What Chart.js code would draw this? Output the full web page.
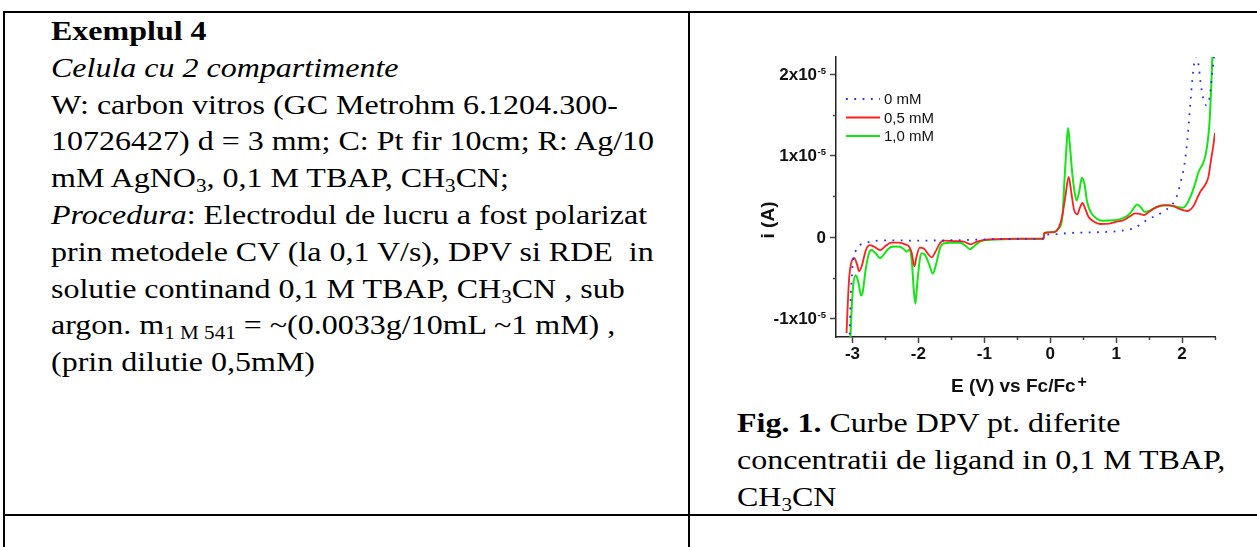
<!DOCTYPE html>
<html>
<head>
<meta charset="utf-8">
<script src="https://cdn.jsdelivr.net/npm/chart.js@4.4.0/dist/chart.umd.min.js"></script>
<style>
html, body { margin: 0; padding: 0; background: #fff; }
body { width: 1257px; height: 547px; overflow: hidden; position: relative; color: #000;
  font-family: 'Liberation Serif', 'Times New Roman', serif; }
.rule { position: absolute; background: #000; }
.txt { position: absolute; font-size: 28px; line-height: 36.8px; white-space: pre;
  transform: scaleX(1.143); transform-origin: 0 0; }
.txt sub { font-size: 0.66em; vertical-align: -0.25em; line-height: 0; }
#plot { position: absolute; left: 760px; top: 50px; }
</style>
</head>
<body>

<!-- table rules -->
<div class="rule" style="left:3px;top:11px;width:1270px;height:2px"></div>
<div class="rule" style="left:3px;top:11px;width:2px;height:540px"></div>
<div class="rule" style="left:688px;top:11px;width:2px;height:540px"></div>
<div class="rule" style="left:3px;top:514px;width:1270px;height:2px"></div>

<div class="txt" style="left:51px;top:13px"><b>Exemplul 4</b>
<i>Celula cu 2 compartimente</i>
W: carbon vitros (GC Metrohm 6.1204.300-
10726427) d = 3 mm; C: Pt fir 10cm; R: Ag/10
mM AgNO<sub>3</sub>, 0,1 M TBAP, CH<sub>3</sub>CN;
<i>Procedura</i>: Electrodul de lucru a fost polarizat
prin metodele CV (la 0,1 V/s), DPV si RDE  in
solutie continand 0,1 M TBAP, CH<sub>3</sub>CN , sub
argon. m<sub>1 M 541</sub> = ~(0.0033g/10mL ~1 mM) ,
(prin dilutie 0,5mM)</div>

<canvas id="plot" width="470" height="350"></canvas>

<div class="txt" style="left:737px;top:405px"><b>Fig. 1.</b> Curbe DPV pt. diferite
concentratii de ligand in 0,1 M TBAP,
CH<sub>3</sub>CN</div>

<script>
// DPV scans: potential in V vs Fc/Fc+, current in units of 1x10^-5 A
// (cathodic scan first, then anodic scan)
const potential0 = [-3.045, -3.03, -3.01, -2.99, -2.95, -2.89, -2.80, -2.68, -2.40, -2.00, -1.60, -1.20, -0.80, -0.10,
  -0.09, 0.10, 0.28, 0.50, 0.76, 1.00, 1.17, 1.29, 1.39, 1.49, 1.62, 1.75, 1.85, 1.92, 1.98, 2.03, 2.08, 2.13, 2.17, 2.21, 2.25, 2.28, 2.32, 2.37, 2.42, 2.46, 2.49]
const current0 = [-1.30, -0.80, -0.50, -0.28, -0.17, -0.10, -0.07, -0.05, -0.04, -0.045, -0.04, -0.035, -0.025, -0.02,
  0.02, 0.035, 0.05, 0.055, 0.06, 0.07, 0.09, 0.115, 0.17, 0.22, 0.27, 0.33, 0.40, 0.50, 0.68, 0.86, 1.19, 1.69, 2.05, 2.22, 2.12, 1.91, 1.71, 1.62, 1.73, 2.03, 2.25]

const potential05 = [-3.09, -3.07, -3.05, -3.02, -2.97, -2.93, -2.90, -2.86, -2.80, -2.74, -2.67, -2.58, -2.50, -2.41, -2.30, -2.20, -2.14, -2.10, -2.06, -2.03, -1.98, -1.92, -1.86, -1.80, -1.74, -1.67, -1.60, -1.45, -1.30, -1.21, -1.12, -1.00, -0.80, -0.50, -0.10,
  -0.09, 0.05, 0.12, 0.18, 0.23, 0.28, 0.32, 0.36, 0.41, 0.45, 0.49, 0.53, 0.58, 0.66, 0.76, 0.90, 1.01, 1.12, 1.20, 1.29, 1.36, 1.42, 1.50, 1.57, 1.65, 1.72, 1.80, 1.87, 1.95, 2.02, 2.08, 2.13, 2.18, 2.23, 2.28, 2.35, 2.40, 2.44, 2.47, 2.50]
const current05 = [-1.18, -0.80, -0.50, -0.32, -0.26, -0.34, -0.42, -0.36, -0.17, -0.10, -0.12, -0.16, -0.11, -0.07, -0.07, -0.09, -0.12, -0.20, -0.36, -0.25, -0.13, -0.14, -0.20, -0.25, -0.18, -0.07, -0.045, -0.05, -0.06, -0.09, -0.06, -0.035, -0.025, -0.02, -0.02,
  0.05, 0.06, 0.10, 0.25, 0.50, 0.74, 0.55, 0.34, 0.28, 0.36, 0.42, 0.35, 0.25, 0.19, 0.16, 0.165, 0.19, 0.21, 0.25, 0.29, 0.285, 0.27, 0.31, 0.35, 0.38, 0.39, 0.39, 0.38, 0.35, 0.33, 0.32, 0.34, 0.39, 0.48, 0.56, 0.64, 0.74, 0.95, 1.10, 1.28]

const potential10 = [-3.035, -3.01, -2.99, -2.95, -2.91, -2.87, -2.85, -2.80, -2.75, -2.71, -2.65, -2.58, -2.52, -2.45, -2.38, -2.28, -2.22, -2.18, -2.14, -2.10, -2.07, -2.045, -2.02, -1.98, -1.95, -1.90, -1.84, -1.78, -1.73, -1.67, -1.62, -1.50, -1.37, -1.28, -1.22, -1.15, -1.05, -0.90, -0.50, -0.10,
  -0.09, 0.05, 0.12, 0.18, 0.22, 0.25, 0.27, 0.30, 0.33, 0.37, 0.40, 0.44, 0.48, 0.52, 0.56, 0.62, 0.70, 0.79, 0.95, 1.06, 1.15, 1.22, 1.28, 1.32, 1.38, 1.43, 1.50, 1.62, 1.72, 1.80, 1.90, 2.00, 2.05, 2.13, 2.20, 2.25, 2.32, 2.36, 2.40, 2.42, 2.44, 2.46, 2.47]
const current10 = [-1.30, -0.85, -0.60, -0.47, -0.56, -0.72, -0.70, -0.40, -0.20, -0.16, -0.20, -0.26, -0.21, -0.14, -0.115, -0.12, -0.15, -0.18, -0.155, -0.30, -0.65, -0.82, -0.60, -0.28, -0.20, -0.22, -0.33, -0.45, -0.33, -0.13, -0.08, -0.07, -0.07, -0.11, -0.15, -0.11, -0.05, -0.035, -0.025, -0.02,
  0.05, 0.06, 0.10, 0.22, 0.75, 1.15, 1.34, 1.12, 0.82, 0.55, 0.45, 0.56, 0.73, 0.65, 0.43, 0.30, 0.23, 0.20, 0.205, 0.22, 0.25, 0.30, 0.37, 0.40, 0.36, 0.31, 0.32, 0.37, 0.39, 0.39, 0.375, 0.36, 0.38, 0.50, 0.66, 0.80, 0.91, 1.02, 1.25, 1.45, 1.80, 2.22, 2.40]

const seriesLabels = ["0 mM", "0,5 mM", "1,0 mM"]

// half-step tick marks between the labelled ones
const xMinorTicks = [-2.5, -1.5, -0.5, 0.5, 1.5, 2.5]
const yMinorTicks = [-0.5, 0.5, 1.5]

const sans = "'Liberation Sans', Arial, sans-serif"

const toPoints = (xs, ys) => xs.map((x, k) => ({x: x, y: ys[k]}))

// axis decorations: short minor ticks, y labels with exponent, axis titles, legend
const axisDecor = {
  id: "axisDecor",
  afterDraw(chart) {
    const ctx = chart.ctx
    const xs = chart.scales.x
    const ys = chart.scales.y
    const area = chart.chartArea

    ctx.save()
    ctx.strokeStyle = "#444"
    ctx.lineWidth = 1.5
    ctx.beginPath()
    xMinorTicks.forEach(v => {
      const px = Math.round(xs.getPixelForValue(v)) + 0.5
      ctx.moveTo(px, area.bottom)
      ctx.lineTo(px, area.bottom + 3)
    })
    yMinorTicks.forEach(v => {
      const py = Math.round(ys.getPixelForValue(v)) + 0.5
      ctx.moveTo(area.left - 3, py)
      ctx.lineTo(area.left, py)
    })
    ctx.stroke()

    // y tick labels: "Nx10" with a raised "-5"
    ctx.fillStyle = "#111"
    const right = area.left - 10
    ys.ticks.forEach(t => {
      const py = ys.getPixelForValue(t.value)
      ctx.textAlign = "right"
      ctx.textBaseline = "middle"
      if (t.value === 0) {
        ctx.font = "bold 17px " + sans
        ctx.fillText("0", right, py + 1)
        return
      }
      ctx.font = "bold 9.5px " + sans
      const supW = ctx.measureText("-5").width
      ctx.fillText("-5", right, py - 3)
      ctx.font = "bold 17px " + sans
      ctx.fillText(t.value + "x10", right - supW - 0.5, py + 1)
    })

    // y title
    ctx.save()
    ctx.translate(9, 170)
    ctx.rotate(-Math.PI / 2)
    ctx.textAlign = "center"
    ctx.textBaseline = "middle"
    ctx.font = "bold 19px " + sans
    ctx.fillText("i (A)", 0, 0)
    ctx.restore()

    // x title with superscript +
    ctx.textAlign = "left"
    ctx.textBaseline = "alphabetic"
    ctx.font = "bold 19px " + sans
    const base = "E (V) vs Fc/Fc"
    ctx.fillText(base, 191, 342)
    const w = ctx.measureText(base).width
    ctx.font = "bold 16px " + sans
    ctx.fillText("+", 191 + w + 2, 337)

    // legend in the upper left corner of the plot
    const lx = area.left + 10
    chart.data.datasets.forEach((ds, k) => {
      const ly = area.top + 42 + k * 18.5
      ctx.strokeStyle = ds.borderColor
      ctx.lineWidth = ds.borderWidth
      ctx.setLineDash(ds.borderDash || [])
      ctx.beginPath()
      ctx.moveTo(lx, ly)
      ctx.lineTo(lx + 34, ly)
      ctx.stroke()
      ctx.setLineDash([])
      ctx.fillStyle = "#111"
      ctx.font = "15px " + sans
      ctx.textAlign = "left"
      ctx.textBaseline = "middle"
      ctx.fillText(ds.label, lx + 38, ly + 1)
    })
    ctx.restore()
  }
}

const ctx = document.getElementById("plot")

new Chart(ctx, {
  type: "line",
  data: {
    datasets: [
      {
        label: seriesLabels[0],
        data: toPoints(potential0, current0),
        borderColor: "#2b2bff",
        borderWidth: 1.8,
        borderDash: [1.8, 6.5],
        pointRadius: 0,
        fill: false,
        cubicInterpolationMode: "monotone"
      },
      {
        label: seriesLabels[1],
        data: toPoints(potential05, current05),
        borderColor: "#ff1f1f",
        borderWidth: 1.8,
        pointRadius: 0,
        fill: false,
        cubicInterpolationMode: "monotone"
      },
      {
        label: seriesLabels[2],
        data: toPoints(potential10, current10),
        borderColor: "#14e614",
        borderWidth: 2,
        pointRadius: 0,
        fill: false,
        cubicInterpolationMode: "monotone"
      }
    ]
  },
  options: {
    responsive: false,
    animation: false,
    events: [],
    layout: {padding: {left: 0, right: 15, top: 7, bottom: 0}},
    plugins: {
      legend: {display: false},
      tooltip: {enabled: false}
    },
    scales: {
      x: {
        type: "linear",
        min: -3.25,
        max: 2.5,
        afterFit: s => { s.height = 63 },
        border: {display: true, color: "#222", width: 1.5},
        grid: {drawOnChartArea: false, drawTicks: true, tickLength: 6, tickColor: "#444", tickWidth: 1.5},
        ticks: {
          stepSize: 1,
          includeBounds: false,
          autoSkip: false,
          maxRotation: 0,
          padding: 1,
          color: "#111",
          font: {family: sans, size: 17, weight: "bold"},
          callback: v => String(v)
        }
      },
      y: {
        type: "linear",
        min: -1.23,
        max: 2.215,
        afterFit: s => { s.width = 76 },
        border: {display: true, color: "#222", width: 1.5},
        grid: {drawOnChartArea: false, drawTicks: true, tickLength: 6, tickColor: "#444", tickWidth: 1.5},
        ticks: {display: false, stepSize: 1, includeBounds: false}
      }
    }
  },
  plugins: [axisDecor]
})
</script>
</body>
</html>
